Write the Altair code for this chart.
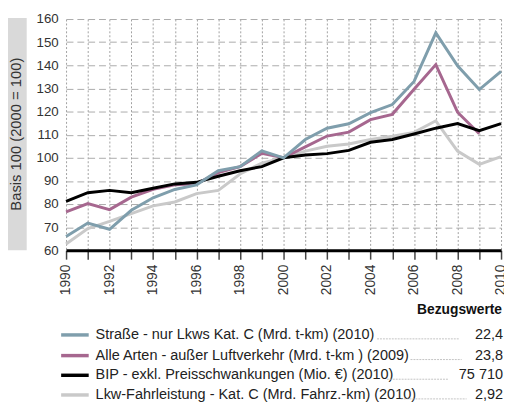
import altair as alt
import pandas as pd

years = list(range(1990, 2011))

strasse = [66.0, 71.8, 69.1, 77.3, 82.7, 86.3, 88.3, 94.4, 96.2, 103.0, 100.0,
           107.9, 112.8, 114.7, 119.5, 123.0, 133.0, 154.0, 139.8, 129.5, 137.4]
alle = [76.6, 80.2, 77.6, 83.0, 86.4, 88.3, 88.8, 93.6, 96.2, 101.9, 100.0,
        104.7, 109.4, 111.1, 116.5, 118.8, 129.6, 140.3, 119.7, 110.4, None]
bip = [81.2, 84.9, 85.9, 84.9, 86.8, 88.7, 89.4, 92.0, 94.4, 96.2, 100.0,
       101.2, 101.8, 103.2, 106.7, 107.9, 110.3, 112.8, 114.8, 111.7, 114.8]
lkw = [62.7, 69.4, 72.5, 75.9, 79.2, 80.9, 84.5, 85.9, 93.0, 97.7, 100.0,
       102.9, 105.0, 106.0, 107.9, 109.3, 111.0, 116.0, 102.9, 97.2, 100.5]

names = [
    "Straße - nur Lkws Kat. C (Mrd. t-km) (2010)",
    "Alle Arten - außer Luftverkehr (Mrd. t-km ) (2009)",
    "BIP - exkl. Preisschwankungen (Mio. €) (2010)",
    "Lkw-Fahrleistung - Kat. C (Mrd. Fahrz.-km) (2010)",
]
ref_values = ["22,4", "23,8", "75 710", "2,92"]
colors = ["#7f9eac", "#a6678f", "#000000", "#c9c9c9"]
series = [strasse, alle, bip, lkw]

y_ticks = list(range(60, 161, 10))

FONT = "Liberation Sans"

rows = []
for name, vals in zip(names, series):
    for yr, v in zip(years, vals):
        if v is not None:
            rows.append({"year": yr, "value": v, "series": name})
df = pd.DataFrame(rows)

xscale = alt.Scale(domain=[1990, 2010], nice=False, zero=False)
yscale = alt.Scale(domain=[60, 160], nice=False, zero=False)

x_enc = alt.X("year:Q", scale=xscale,
              axis=alt.Axis(values=years, title=None, format="d",
                            labelExpr="datum.value % 2 == 0 ? datum.label : ''",
                            labelAngle=-90, labelFontSize=14, labelFont=FONT,
                            labelColor="#333333", labelPadding=5,
                            labelOverlap=False,
                            tickSize=9, tickColor="#444444", tickWidth=1.5,
                            domainColor="#000000", domainWidth=3,
                            grid=True, gridDash=[2, 2], gridColor="#a0a0a0",
                            gridWidth=1))
y_enc = alt.Y("value:Q", scale=yscale,
              axis=alt.Axis(values=y_ticks, title=None, ticks=False,
                            domain=False, labelFontSize=13.5, labelFont=FONT,
                            labelColor="#333333", labelPadding=8,
                            labelOverlap=False,
                            grid=True, gridDash=[7, 4], gridColor="#aaaaaa",
                            gridWidth=1))

base = alt.Chart(df)

draw_order = [3, 1, 2, 0]
line_layers = []
for i in draw_order:
    line_layers.append(
        base.transform_filter(alt.datum.series == names[i]).mark_line(
            color=colors[i], strokeWidth=3, strokeJoin="miter"
        ).encode(x=x_enc, y=y_enc)
    )

one = pd.DataFrame({"k": [0]})

deco = []
# grey title box
deco.append(alt.Chart(one).mark_rect(color="#d9d9d9").encode(
    x=alt.value(-59), x2=alt.value(-40), y=alt.value(-1), y2=alt.value(235)))
deco.append(alt.Chart(one).mark_text(
    angle=270, align="center", baseline="middle", fontSize=15, font=FONT,
    color="#333333").encode(
    x=alt.value(-51), y=alt.value(117), text=alt.value("Basis 100 (2000 = 100)")))

# legend header
deco.append(alt.Chart(one).mark_text(
    align="right", baseline="middle", fontSize=14, font=FONT,
    fontWeight="bold", color="#111111").encode(
    x=alt.value(443), y=alt.value(296), text=alt.value("Bezugswerte")))

row_y = [321, 342, 362, 382]
leader_x = [(316, 400), (350, 402), (326, 388), (340, 407)]
for i in range(4):
    deco.append(alt.Chart(one).mark_rule(color=colors[i], strokeWidth=3.5).encode(
        x=alt.value(-5), x2=alt.value(23), y=alt.value(row_y[i])))
    deco.append(alt.Chart(one).mark_text(
        align="left", baseline="middle", fontSize=14.7, font=FONT,
        color="#222222").encode(
        x=alt.value(30), y=alt.value(row_y[i]), text=alt.value(names[i])))
    deco.append(alt.Chart(one).mark_rule(
        color="#b5b5b5", strokeWidth=0.8, strokeDash=[2, 1]).encode(
        x=alt.value(leader_x[i][0]), x2=alt.value(leader_x[i][1]),
        y=alt.value(row_y[i] + 4)))
    deco.append(alt.Chart(one).mark_text(
        align="right", baseline="middle", fontSize=14.7, font=FONT,
        color="#222222").encode(
        x=alt.value(444), y=alt.value(row_y[i]), text=alt.value(ref_values[i])))

chart = alt.layer(*line_layers, *deco).properties(
    width=442, height=235,
    autosize=alt.AutoSizeParams(type="none"),
    padding={"left": 59, "top": 8, "right": 3, "bottom": 155},
).configure_view(stroke=None)

chart.save("out.html", embed_options={"renderer": "svg", "actions": False})
